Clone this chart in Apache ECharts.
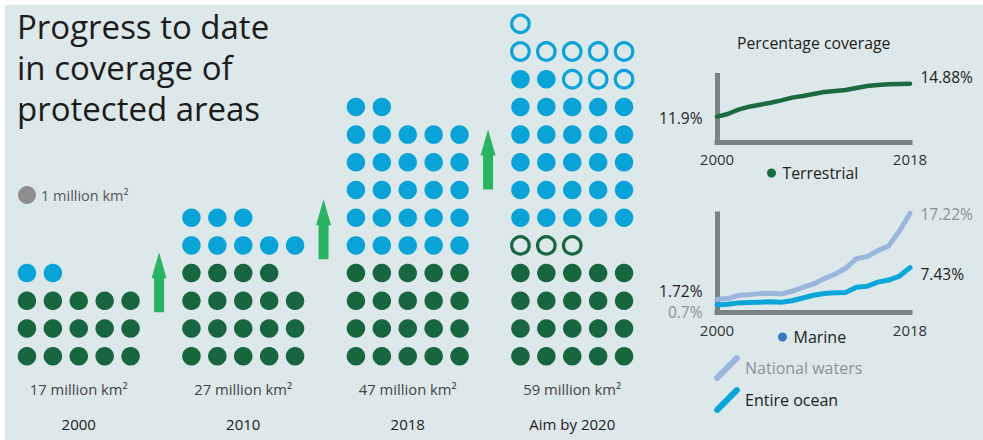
<!DOCTYPE html>
<html><head><meta charset="utf-8">
<script src="https://cdn.jsdelivr.net/npm/echarts@6/dist/echarts.min.js"></script>
<style>html,body{margin:0;padding:0;background:#fff}#chart{width:983px;height:440px}</style>
</head><body><div id="chart"></div>
<script>
// ---------------- data ----------------
const groups = ['2000', '2010', '2018', 'Aim by 2020'];
const areaLabels = ['17 million km²', '27 million km²', '47 million km²', '59 million km²'];
const terrestrialDots = [15, 19, 20, 20];
const terrestrialTargetDots = [0, 0, 0, 3];
const marineDots = [2, 8, 27, 27];
const marineTargetDots = [0, 0, 0, 9];

const years = [2000, 2001, 2002, 2003, 2004, 2005, 2006, 2007, 2008, 2009, 2010, 2011, 2012, 2013, 2014, 2015, 2016, 2017, 2018];
const terrestrialPct = [11.9, 12.14, 12.53, 12.80, 12.98, 13.16, 13.37, 13.62, 13.77, 13.95, 14.13, 14.22, 14.31, 14.49, 14.67, 14.76, 14.82, 14.85, 14.88];
const nationalWatersPct = [1.72, 1.84, 2.44, 2.56, 2.74, 2.80, 2.68, 3.16, 3.88, 4.48, 5.44, 6.22, 7.30, 9.05, 9.41, 10.49, 11.33, 13.97, 17.22];
const entireOceanPct = [0.70, 0.82, 1.07, 1.14, 1.20, 1.26, 1.20, 1.45, 1.95, 2.44, 2.76, 2.88, 2.94, 3.88, 4.06, 4.81, 5.19, 5.87, 7.43];

// ---------------- layout / style ----------------
const PER_ROW = 5;
const GROUP_STEP = 6.35;
const arrowLevels = [2.67, 4.58, 7.1];
const FONT = 'Open Sans';
const GREEN = '#176640', BLUE = '#0aa3d7', ARROW = '#28b463';
const AXIS = '#7b8283', DARK = '#222', GREY = '#8a9396';
const TERR = '#1b6a40', NW = '#9bb6dd', EO = '#0aa6d9';

function buildDots() {
  const out = { tf: [], to: [], mf: [], mo: [] };
  groups.forEach((g, gi) => {
    let idx = 0;
    const put = (arr, n) => {
      for (let k = 0; k < n; k++, idx++) arr.push([gi * GROUP_STEP + idx % PER_ROW, Math.floor(idx / PER_ROW)]);
    };
    put(out.tf, terrestrialDots[gi]);
    put(out.to, terrestrialTargetDots[gi]);
    idx = Math.ceil(idx / PER_ROW) * PER_ROW;
    put(out.mf, marineDots[gi]);
    put(out.mo, marineTargetDots[gi]);
  });
  return out;
}
const dots = buildDots();
const arrows = arrowLevels.map((lv, i) => [i * GROUP_STEP + PER_ROW + 0.1, lv]);

function lineData(vals, firstLabel, lastLabel) {
  return years.map((y, i) => {
    const d = { value: [y, vals[i]] };
    if (i === 0 && firstLabel) d.label = firstLabel;
    if (i === years.length - 1 && lastLabel) d.label = lastLabel;
    return d;
  });
}
const pctFmt = p => p.value[1] + '%';
function lbl(pos, color, offset, dist) {
  return { show: true, position: pos, distance: dist, offset: offset, formatter: pctFmt,
           color: color, fontSize: 15.5, fontFamily: FONT };
}

const diagIcon = 'path://M1.9,20.9 L21.9,0.9 A3,3 0 0 1 26.1,5.1 L6.1,25.1 A3,3 0 0 1 1.9,20.9 Z';
const arrowIcon = 'path://M7.5,0 L15,26 L12.5,26 L12.5,60 L2.5,60 L2.5,26 L0,26 Z';

const chart = echarts.init(document.getElementById('chart'), null, { renderer: 'svg' });
const hiddenY = (min, max, show) => ({
  type: 'value', min: min, max: max,
  axisLine: { show: !!show, lineStyle: { color: AXIS, width: 5, cap: 'square' } },
  axisTick: { show: false }, axisLabel: { show: false }, splitLine: { show: false }
});
const smallX = (gi, margin) => ({
  type: 'value', gridIndex: gi, min: 2000, max: 2018,
  axisLine: { show: true, onZero: false, lineStyle: { color: AXIS, width: 5, cap: 'square' } },
  axisTick: { show: false }, splitLine: { show: false },
  axisLabel: { customValues: [2000, 2018], margin: margin, fontSize: 15, color: '#333', fontFamily: FONT,
               formatter: v => String(v) }
});
const lineSeries = (name, color, width, xi, vals, first, last) => ({
  type: 'line', name: name, xAxisIndex: xi, yAxisIndex: xi, silent: true, clip: false,
  symbol: 'circle', symbolSize: 1, showSymbol: true, showAllSymbol: true,
  color: color, itemStyle: { color: color, opacity: 1 },
  lineStyle: { width: width, color: color, cap: 'round', join: 'round' },
  emphasis: { disabled: true },
  data: lineData(vals, first, last)
});

chart.setOption({
  animation: false,
  backgroundColor: '#dde8ea',
  textStyle: { fontFamily: FONT },
  graphic: [
    { type: 'rect', shape: { x: 0, y: 0, width: 983, height: 5 }, style: { fill: '#fff' }, silent: true },
    { type: 'rect', shape: { x: 0, y: 0, width: 5, height: 440 }, style: { fill: '#fff' }, silent: true }
  ],
  title: [
    { text: 'Progress to date\nin coverage of\nprotected areas', left: 17, top: 6, padding: 0,
      textStyle: { fontSize: 33, lineHeight: 41, fontWeight: 'normal', color: '#1c1c1c', fontFamily: FONT } },
    { text: 'Percentage coverage', left: 737, top: 34, padding: 0,
      textStyle: { fontSize: 15.8, lineHeight: 18, fontWeight: 'normal', color: DARK, fontFamily: FONT } }
  ],
  legend: [
    { data: ['1 million km²'], left: 18, top: 186, padding: 0, icon: 'circle', itemWidth: 18, itemHeight: 18,
      selectedMode: false, textStyle: { fontSize: 14.5, color: '#555', fontFamily: FONT } },
    { data: ['Terrestrial'], left: 767, top: 165, padding: 0, icon: 'circle', itemWidth: 12, itemHeight: 9,
      selectedMode: false, itemStyle: { borderWidth: 0 }, textStyle: { fontSize: 15.8, color: DARK, fontFamily: FONT } },
    { data: ['Marine'], left: 778, top: 329, padding: 0, icon: 'circle', itemWidth: 12, itemHeight: 9,
      selectedMode: false, itemStyle: { borderWidth: 0 }, textStyle: { fontSize: 16, color: DARK, fontFamily: FONT } },
    { data: [ { name: 'National waters', textStyle: { color: GREY } }, { name: 'Entire ocean', textStyle: { color: DARK } } ],
      orient: 'vertical', left: 714, top: 355, padding: 0, icon: diagIcon, itemWidth: 26, itemHeight: 26, itemGap: 6,
      selectedMode: false, itemStyle: { borderWidth: 0 }, textStyle: { fontSize: 16, fontFamily: FONT } }
  ],
  grid: [
    { left: 14, width: 623, top: 10, height: 360 },
    { left: 717, width: 193, top: 75.5, height: 66.5 },
    { left: 717, width: 193, top: 214, height: 98.5 }
  ],
  xAxis: [
    { type: 'value', gridIndex: 0, min: -0.5, max: 3 * GROUP_STEP + PER_ROW - 0.5,
      axisLine: { show: false }, axisTick: { show: false }, splitLine: { show: false },
      axisLabel: {
        customValues: groups.map((g, i) => i * GROUP_STEP + 2), margin: 1,
        formatter: v => { const i = Math.round((v - 2) / GROUP_STEP); return '{a|' + areaLabels[i] + '}\n{b|' + groups[i] + '}'; },
        rich: { a: { fontSize: 14.8, color: '#444', lineHeight: 35, fontFamily: FONT },
                b: { fontSize: 15, color: DARK, lineHeight: 35, fontFamily: FONT } }
      } },
    smallX(1, 9),
    smallX(2, 9.5)
  ],
  yAxis: [
    Object.assign(hiddenY(-0.5, 12.5, false), { gridIndex: 0 }),
    Object.assign(hiddenY(9.61, 15.62, true), { gridIndex: 1 }),
    Object.assign(hiddenY(-0.66, 17.08, true), { gridIndex: 2 })
  ],
  series: [
    { type: 'scatter', name: 'tf', silent: true, symbolSize: 18.5, itemStyle: { color: GREEN, opacity: 1 }, data: dots.tf },
    { type: 'scatter', name: 'to', silent: true, symbolSize: 17.5,
      itemStyle: { color: 'rgba(0,0,0,0)', borderColor: GREEN, borderWidth: 3.2, opacity: 1 }, data: dots.to },
    { type: 'scatter', name: 'mf', silent: true, symbolSize: 18.5, itemStyle: { color: BLUE, opacity: 1 }, data: dots.mf },
    { type: 'scatter', name: 'mo', silent: true, symbolSize: 17.5,
      itemStyle: { color: 'rgba(0,0,0,0)', borderColor: BLUE, borderWidth: 3.2, opacity: 1 }, data: dots.mo },
    { type: 'scatter', name: 'arrows', silent: true, symbol: arrowIcon, symbolSize: [15, 60],
      itemStyle: { color: ARROW, opacity: 1 }, data: arrows },
    { type: 'scatter', name: '1 million km²', silent: true, itemStyle: { color: '#8e8e8e', opacity: 1 }, data: [] },
    { type: 'scatter', name: 'Marine', silent: true, itemStyle: { color: '#3b78c4', opacity: 1 }, data: [] },
    lineSeries('Terrestrial', TERR, 4.5, 1, terrestrialPct,
      lbl('left', DARK, [0, 1], 14), lbl('right', DARK, [0, -7], 10)),
    lineSeries('National waters', NW, 5, 2, nationalWatersPct,
      lbl('left', DARK, [0, -8], 14), lbl('right', GREY, [0, 1], 10)),
    lineSeries('Entire ocean', EO, 5, 2, entireOceanPct,
      lbl('left', GREY, [0, 7], 14), lbl('right', DARK, [0, 6], 10))
  ]
});
</script></body></html>
